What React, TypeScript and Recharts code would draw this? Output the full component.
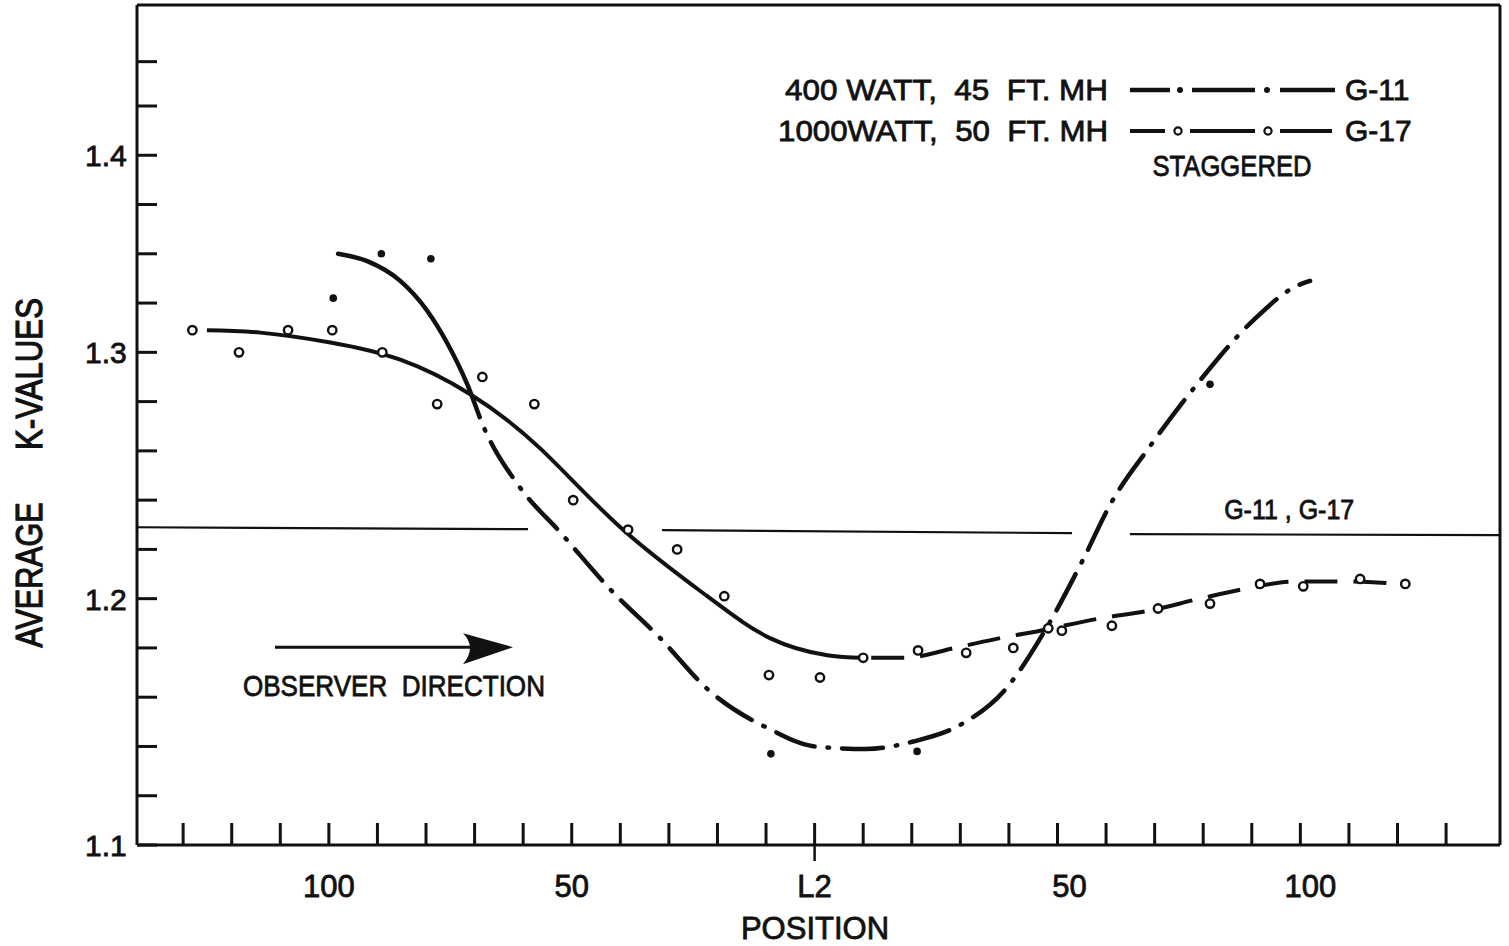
import {
  ComposedChart,
  Line,
  Scatter,
  XAxis,
  YAxis,
  ReferenceLine,
  ReferenceDot,
  Legend,
  Label,
} from 'recharts';

const FONT = '"Liberation Sans", Arial, sans-serif';
const INK = '#111';

// x runs over the tick marks: 1..27, luminaire L2 sits on tick 14
const X_MIN = 0.05;
const X_MAX = 28.11;
const X_TICKS = [1, 2, 3, 4, 5, 6, 7, 8, 9, 10, 11, 12, 13, 14, 15, 16, 17, 18, 19, 20, 21, 22, 23, 24, 25, 26, 27];
const X_LABEL_AT = [4, 9, 14, 19, 24];
const X_LABEL_TEXT = ['100', '50', 'L2', '50', '100'];
const X_LABEL_SHIFT = [0, 0, 0, 12, 10]; // lettering on the right half sits a bit off its tick

const Y_MIN = 1.1;
const Y_MAX = 1.441;
const Y_TICKS = [1.1, 1.12, 1.14, 1.16, 1.18, 1.2, 1.22, 1.24, 1.26, 1.28, 1.3, 1.32, 1.34, 1.36, 1.38, 1.4, 1.418];
// the original sheet prints 1.4 one tick low, keep it that way
const Y_LABEL_AT = [1.1, 1.2, 1.3, 1.38];
const Y_LABEL_TEXT = ['1.1', '1.2', '1.3', '1.4'];

// G-11  400 watt, 45 ft MH
const G11_CURVE_X = [4.19, 4.79, 5.47, 6.02, 6.43, 6.85, 7.18, 7.94, 8.76, 9.83, 10.82, 11.81, 13.08, 14.01, 15.06, 16.03, 17.02, 17.92, 18.74, 19.53, 20.08, 20.91, 21.87, 23.03, 23.93, 24.2];
const G11_CURVE_Y = [1.34, 1.337, 1.329, 1.317, 1.304, 1.287, 1.27, 1.245, 1.227, 1.203, 1.184, 1.163, 1.147, 1.14, 1.139, 1.142, 1.149, 1.163, 1.187, 1.216, 1.238, 1.262, 1.287, 1.313, 1.327, 1.329];
const G11_POINT_X = [4.09, 5.08, 6.1, 13.1, 16.11, 22.14];
const G11_POINT_Y = [1.322, 1.34, 1.338, 1.137, 1.138, 1.287];

// G-17  1000 watt, 50 ft MH
const G17_CURVE_X = [1.49, 2.59, 4.03, 5.47, 6.91, 8.35, 10.0, 11.79, 13.08, 14.26, 15.0];
const G17_CURVE_Y = [1.309, 1.308, 1.304, 1.297, 1.283, 1.261, 1.229, 1.201, 1.184, 1.177, 1.176];
const G17_TAIL_X = [15.0, 15.86, 16.89, 17.82, 18.64, 19.88, 20.86, 21.93, 22.86, 23.89, 25.02, 25.99];
const G17_TAIL_Y = [1.176, 1.176, 1.18, 1.184, 1.187, 1.192, 1.195, 1.2, 1.204, 1.207, 1.207, 1.206];
const G17_POINT_X = [1.19, 2.15, 3.16, 4.07, 5.1, 6.23, 7.16, 8.23, 9.03, 10.16, 11.17, 12.14, 13.06, 14.11, 15.0, 16.13, 17.12, 18.09, 18.81, 19.09, 20.12, 21.07, 22.14, 23.17, 24.06, 25.23, 26.16];
const G17_POINT_Y = [1.309, 1.3, 1.309, 1.309, 1.3, 1.279, 1.29, 1.279, 1.24, 1.228, 1.22, 1.201, 1.169, 1.168, 1.176, 1.179, 1.178, 1.18, 1.188, 1.187, 1.189, 1.196, 1.198, 1.206, 1.205, 1.208, 1.206];

// G-11 , G-17 staggered level, drawn with two breaks
const LEVEL_X = [0.05, 8.1, 9.5, 10.86, 19.3, 19.9, 20.49, 28.11];
const LEVEL_Y = [1.229, 1.2282, null, 1.2278, 1.2266, null, 1.2262, 1.2258];

const ARROW_FROM = 2.89;
const ARROW_TO = 7.79;
const ARROW_LEVEL = 1.1803;

const zip = (xs: number[], ys: (number | null)[]) => xs.map((x, i) => ({ x, y: ys[i] }));

const g11Curve = zip(G11_CURVE_X, G11_CURVE_Y);
const g11Points = zip(G11_POINT_X, G11_POINT_Y);
const g17Curve = zip(G17_CURVE_X, G17_CURVE_Y);
const g17Tail = zip(G17_TAIL_X, G17_TAIL_Y);
const g17Points = zip(G17_POINT_X, G17_POINT_Y);
const level = zip(LEVEL_X, LEVEL_Y);

// long solid start, then dash-dot
const G11_DASH = '228 13 1.5 13 ' + Array(40).fill('41 13 1.5 13').join(' ');

type TxtProps = {
  x: number;
  y: number;
  children: string;
  size?: number;
  anchor?: 'start' | 'middle' | 'end';
  len?: number;
  rotate?: boolean;
  weight?: number;
};

const Txt = ({ x, y, children, size = 30, anchor = 'start', len, rotate, weight = 0.8 }: TxtProps) => (
  <text
    x={x}
    y={y}
    fontFamily={FONT}
    fontSize={size}
    fill={INK}
    stroke={INK}
    strokeWidth={weight}
    textAnchor={anchor}
    textLength={len}
    lengthAdjust={len ? 'spacingAndGlyphs' : undefined}
    transform={rotate ? `rotate(-90 ${x} ${y})` : undefined}
    style={{ whiteSpace: 'pre' }}
  >
    {children}
  </text>
);

const XTick = (props: any) => {
  const { x, y, payload } = props;
  const at = X_LABEL_AT.indexOf(payload.value);
  const label = at >= 0 ? X_LABEL_TEXT[at] : null;
  return (
    <g>
      <line x1={x} x2={x} y1={y} y2={y - 22} stroke={INK} strokeWidth={3} />
      {label === 'L2' && <line x1={x} x2={x} y1={y} y2={y + 16} stroke={INK} strokeWidth={2.5} />}
      {label && (
        <Txt x={x + X_LABEL_SHIFT[at]} y={y + 52} size={31} anchor="middle">
          {label}
        </Txt>
      )}
    </g>
  );
};

const YTick = (props: any) => {
  const { x, y, payload } = props;
  const at = Y_LABEL_AT.findIndex((v) => Math.abs(v - payload.value) < 1e-6);
  return (
    <g>
      <line x1={x} x2={x + 20} y1={y} y2={y} stroke={INK} strokeWidth={3} />
      {at >= 0 && (
        <Txt x={x - 52} y={y + 11} size={30}>
          {Y_LABEL_TEXT[at]}
        </Txt>
      )}
    </g>
  );
};

const OpenRing = (props: any) => (
  <circle cx={props.cx} cy={props.cy} r={4.2} fill="#fff" stroke={INK} strokeWidth={2.4} />
);

const SolidDot = (props: any) => <circle cx={props.cx} cy={props.cy} r={3.8} fill={INK} />;

const Arrow = (props: any) => {
  const { x1, y1, x2 } = props;
  return (
    <g>
      <line x1={x1} y1={y1} x2={x2 - 30} y2={y1} stroke={INK} strokeWidth={3} />
      <path
        d={`M ${x2} ${y1} L ${x2 - 50} ${y1 - 14} Q ${x2 - 36} ${y1} ${x2 - 50} ${y1 + 17} Z`}
        fill={INK}
      />
      <Txt x={x1 - 32} y={y1 + 49} size={30} len={302}>
        {'OBSERVER  DIRECTION'}
      </Txt>
    </g>
  );
};

const LevelTag = (props: any) => (
  <Txt x={props.cx} y={props.cy} size={28} anchor="middle" len={130}>
    {'G-11 , G-17'}
  </Txt>
);

const LegendBox = () => (
  <svg width={740} height={130} style={{ display: 'block' }}>
    <Txt x={348} y={40} anchor="end" len={323}>
      {'400 WATT,  45  FT. MH'}
    </Txt>
    <line x1={370} x2={410} y1={30} y2={30} stroke={INK} strokeWidth={4.5} />
    <circle cx={420} cy={30} r={3} fill={INK} />
    <line x1={432} x2={495} y1={30} y2={30} stroke={INK} strokeWidth={4.5} />
    <circle cx={507} cy={30} r={3} fill={INK} />
    <line x1={520} x2={575} y1={30} y2={30} stroke={INK} strokeWidth={4.5} />
    <Txt x={585} y={40}>G-11</Txt>

    <Txt x={348} y={81} anchor="end" len={330}>
      {'1000WATT,  50  FT. MH'}
    </Txt>
    <line x1={370} x2={405} y1={71} y2={71} stroke={INK} strokeWidth={4} />
    <circle cx={418} cy={71} r={3.6} fill="#fff" stroke={INK} strokeWidth={2.2} />
    <line x1={430} x2={495} y1={71} y2={71} stroke={INK} strokeWidth={4} />
    <circle cx={508} cy={71} r={3.6} fill="#fff" stroke={INK} strokeWidth={2.2} />
    <line x1={520} x2={572} y1={71} y2={71} stroke={INK} strokeWidth={4} />
    <Txt x={585} y={81}>G-17</Txt>

    <Txt x={472} y={116} anchor="middle" len={159}>
      STAGGERED
    </Txt>
  </svg>
);

export default function App() {
  return (
    <div style={{ position: 'absolute', left: 0, top: 0, width: 1509, height: 946, background: '#fff' }}>
      <ComposedChart width={1509} height={946} margin={{ top: 5, right: 9, bottom: 0, left: 0 }}>
        <XAxis
          type="number"
          dataKey="x"
          domain={[X_MIN, X_MAX]}
          allowDataOverflow
          ticks={X_TICKS}
          interval={0}
          height={101}
          tickSize={0}
          tickMargin={0}
          tickLine={false}
          tick={<XTick />}
          axisLine={{ stroke: INK, strokeWidth: 3 }}
        >
          <Label
            content={() => (
              <Txt x={815} y={939} size={31} anchor="middle">
                POSITION
              </Txt>
            )}
          />
        </XAxis>
        <YAxis
          type="number"
          dataKey="y"
          domain={[Y_MIN, Y_MAX]}
          allowDataOverflow
          ticks={Y_TICKS}
          interval={0}
          width={137}
          tickSize={0}
          tickMargin={0}
          tickLine={false}
          tick={<YTick />}
          axisLine={{ stroke: INK, strokeWidth: 3 }}
        >
          <Label
            content={() => (
              <g>
                <Txt x={42} y={575} size={37} anchor="middle" len={145} rotate weight={1.2}>
                  AVERAGE
                </Txt>
                <Txt x={42} y={374} size={37} anchor="middle" len={152} rotate weight={1.2}>
                  K-VALUES
                </Txt>
              </g>
            )}
          />
        </YAxis>

        <ReferenceLine y={Y_MAX} stroke={INK} strokeWidth={3} />
        <ReferenceLine x={X_MAX} stroke={INK} strokeWidth={3} />

        <Line
          data={level}
          dataKey="y"
          type="linear"
          stroke={INK}
          strokeWidth={2.2}
          dot={false}
          activeDot={false}
          isAnimationActive={false}
        />
        <Line
          data={g11Curve}
          dataKey="y"
          type="monotone"
          stroke={INK}
          strokeWidth={4.5}
          strokeDasharray={G11_DASH}
          strokeLinecap="round"
          dot={false}
          activeDot={false}
          isAnimationActive={false}
        />
        <Line
          data={g17Curve}
          dataKey="y"
          type="natural"
          stroke={INK}
          strokeWidth={4}
          dot={false}
          activeDot={false}
          isAnimationActive={false}
        />
        <Line
          data={g17Tail}
          dataKey="y"
          type="monotone"
          stroke={INK}
          strokeWidth={4}
          strokeDasharray="0 8 33 8"
          dot={false}
          activeDot={false}
          isAnimationActive={false}
        />
        <Scatter data={g11Points} shape={SolidDot} isAnimationActive={false} />
        <Scatter data={g17Points} shape={OpenRing} isAnimationActive={false} />

        <ReferenceLine
          segment={[
            { x: ARROW_FROM, y: ARROW_LEVEL },
            { x: ARROW_TO, y: ARROW_LEVEL },
          ]}
          shape={Arrow}
        />
        <ReferenceDot x={23.77} y={1.2325} r={0} shape={LevelTag} />

        <Legend
          layout="horizontal"
          verticalAlign="middle"
          align="center"
          content={<LegendBox />}
          wrapperStyle={{ left: 760, top: 60, width: 740, height: 130 }}
        />
      </ComposedChart>
    </div>
  );
}
